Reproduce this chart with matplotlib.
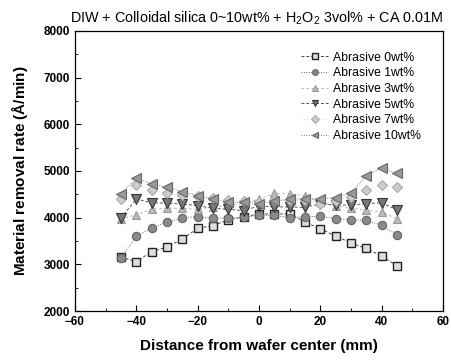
import numpy as np
import matplotlib
matplotlib.use("Agg")
import matplotlib.pyplot as plt
from matplotlib.ticker import MultipleLocator

plt.rcParams["font.family"] = ["Liberation Sans", "DejaVu Sans"]
plt.rcParams["mathtext.fontset"] = "custom"
plt.rcParams["mathtext.rm"] = "Liberation Sans"
plt.rcParams["mathtext.bf"] = "Liberation Sans:bold"

# removal rate across the wafer for each abrasive loading
pos = [-45, -40, -35, -30, -25, -20, -15, -10, -5, 0, 5, 10, 15, 20, 25, 30, 35, 40, 45]
rate_0 = [3150, 3060, 3270, 3370, 3540, 3770, 3830, 3950, 4020, 4080, 4080, 4080, 3910, 3760, 3610, 3460, 3340, 3180, 2970]
rate_1 = [3130, 3600, 3780, 3900, 4000, 4020, 3990, 3990, 4010, 4050, 4050, 4000, 4020, 4030, 3980, 3960, 3940, 3840, 3630]
rate_3 = [3970, 4060, 4180, 4200, 4200, 4180, 4230, 4270, 4300, 4400, 4520, 4510, 4470, 4330, 4250, 4200, 4170, 4120, 3980]
rate_5 = [3990, 4400, 4320, 4310, 4290, 4260, 4200, 4180, 4150, 4250, 4230, 4230, 4220, 4300, 4270, 4270, 4300, 4320, 4170]
rate_7 = [4400, 4700, 4600, 4520, 4480, 4470, 4420, 4380, 4350, 4330, 4380, 4370, 4380, 4300, 4350, 4450, 4600, 4690, 4650]
rate_10 = [4500, 4840, 4730, 4650, 4560, 4470, 4400, 4330, 4330, 4300, 4350, 4400, 4400, 4400, 4430, 4530, 4890, 5070, 4950]
labels = ["Abrasive 0wt%", "Abrasive 1wt%", "Abrasive 3wt%",
          "Abrasive 5wt%", "Abrasive 7wt%", "Abrasive 10wt%"]

fig = plt.figure(figsize=(4.51, 3.6), dpi=100)
ax = fig.add_axes([0.166, 0.136, 0.816, 0.778])

ax.plot(pos, rate_0, ls=(0, (3, 2)), lw=0.7, color="#444444", marker="s", ms=5.5,
        mfc="#dddddd", mec="#222222", mew=1.0, label=labels[0])
ax.plot(pos, rate_1, ls=(0, (1, 1.5)), lw=0.7, color="#666666", marker="o", ms=6,
        mfc="#8a8a8a", mec="#666666", mew=0.8, label=labels[1])
ax.plot(pos, rate_3, ls=(0, (3, 3)), lw=0.6, color="#aaaaaa", marker="^", ms=6,
        mfc="#bbbbbb", mec="#999999", mew=0.8, label=labels[2])
ax.plot(pos, rate_5, ls=(0, (3, 2)), lw=0.7, color="#555555", marker="v", ms=7,
        mfc="#777777", mec="#333333", mew=0.8, label=labels[3])
ax.plot(pos, rate_7, ls=(0, (1, 3)), lw=0.5, color="#bbbbbb", marker="D", ms=5.5,
        mfc="#cccccc", mec="#aaaaaa", mew=0.8, label=labels[4])
ax.plot(pos, rate_10, ls=(0, (1, 1.5)), lw=0.7, color="#777777", marker="<", ms=7,
        mfc="#999999", mec="#666666", mew=0.8, label=labels[5])

ax.set_xlim(-60, 60)
ax.set_ylim(2000, 8000)
ax.xaxis.set_major_locator(MultipleLocator(20))
ax.xaxis.set_minor_locator(MultipleLocator(10))
ax.yaxis.set_major_locator(MultipleLocator(1000))
ax.yaxis.set_minor_locator(MultipleLocator(500))
ax.tick_params(which="both", direction="in", top=False, right=False)
ax.tick_params(which="major", length=4, width=0.8, labelsize=8.5)
ax.tick_params(which="minor", length=2, width=0.6)
for lab in ax.get_xticklabels() + ax.get_yticklabels():
    lab.set_fontweight("bold")
for sp in ax.spines.values():
    sp.set_linewidth(0.9)

ax.set_xlabel("Distance from wafer center (mm)", fontsize=11, fontweight="bold", labelpad=8)
ax.set_ylabel("Material removal rate ($\\mathbf{\\AA}$/min)", fontsize=11, fontweight="bold", labelpad=10)
ax.set_title("DIW + Colloidal silica 0~10wt% + H$_2$O$_2$ 3vol% + CA 0.01M",
             fontsize=10.4, loc="right", pad=6)

ax.legend(loc="upper right", bbox_to_anchor=(0.97, 0.965), frameon=False, fontsize=8.8,
          handlelength=2.2, labelspacing=0.3, handletextpad=0.4, markerscale=0.7)

fig.savefig("out.png", dpi=100)
